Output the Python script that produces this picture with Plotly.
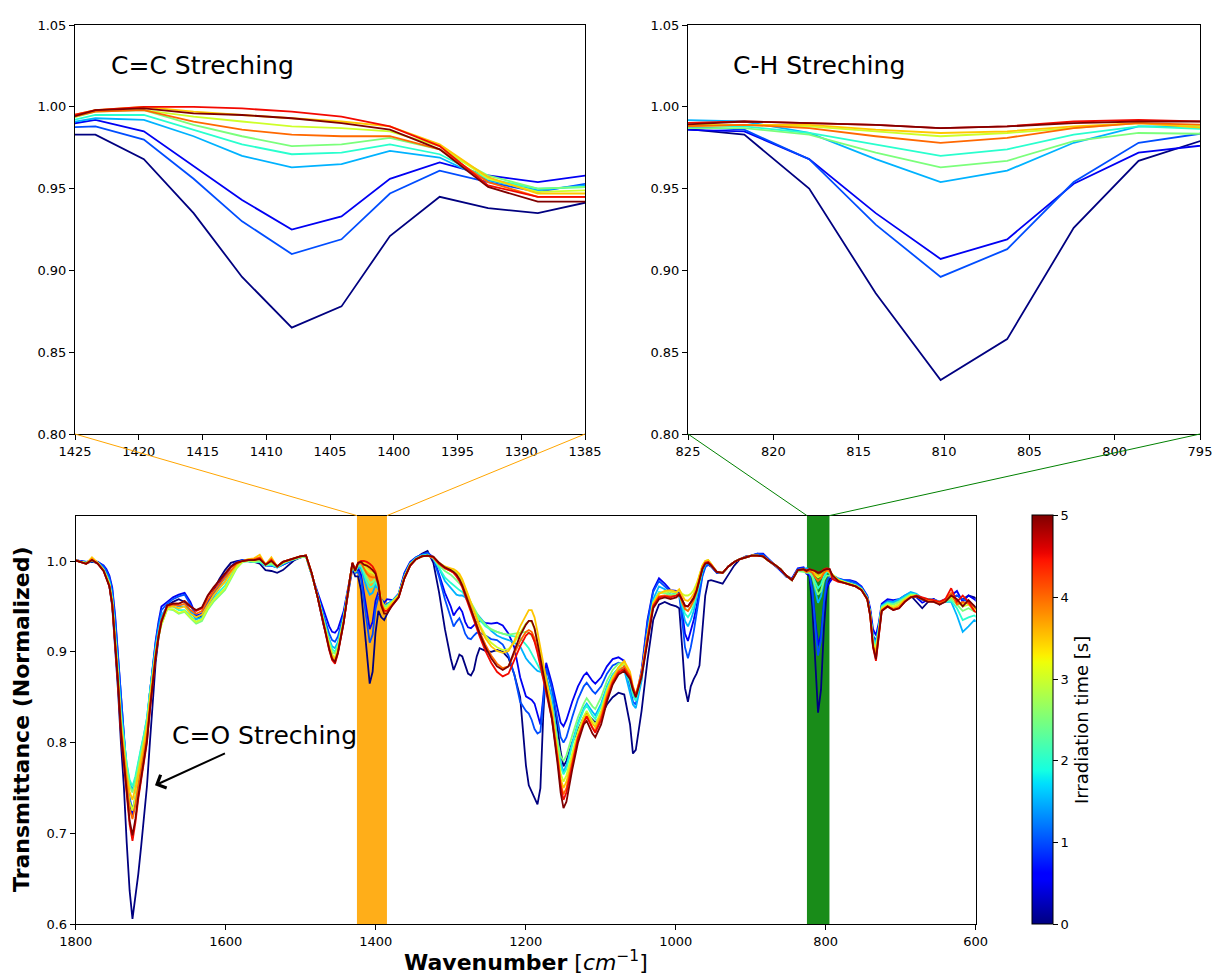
import plotly.graph_objects as go

FIG_W, FIG_H = 1216, 979
FONT = "DejaVu Sans"

# Irradiation times of the recorded spectra [s]
irradiation_time = [0.0, 0.5, 1.0, 1.5, 2.0, 2.5, 3.0, 3.5, 4.0, 4.5, 5.0]

# Wavenumber grid [cm^-1]
wavenumber = [
    1801.4, 1793.7, 1786.0, 1778.3, 1770.6, 1762.8, 1759.0,
    1755.1, 1751.3, 1747.4, 1743.6, 1739.7, 1735.8, 1732.0, 1728.1, 1724.3, 1720.4,
    1716.6, 1712.7, 1708.8, 1705.0, 1701.1, 1697.3, 1693.4, 1689.6, 1685.7,
    1678.0, 1670.3, 1662.6, 1654.8, 1647.1, 1639.4, 1631.7, 1624.0, 1616.3, 1608.6,
    1600.9, 1593.1, 1585.4, 1577.7, 1570.0, 1562.3, 1554.6, 1546.9, 1539.1, 1531.4,
    1523.7, 1516.0, 1508.3, 1500.6, 1492.9, 1485.1,
    1477.4, 1469.7, 1462.0, 1458.1, 1454.3, 1450.4, 1442.7, 1435.0, 1431.1, 1427.3,
    1423.4, 1419.6, 1415.7, 1411.9, 1408.0, 1404.1, 1400.3, 1396.4, 1392.6, 1388.7, 1384.9,
    1377.1, 1369.4, 1361.7, 1354.0, 1346.3, 1338.6, 1330.9, 1323.1, 1315.4, 1307.7,
    1300.0, 1296.1, 1292.3, 1288.4, 1284.6, 1280.7, 1276.9, 1273.0, 1269.1, 1265.3, 1261.4,
    1253.7, 1246.0, 1238.3, 1230.6, 1222.9, 1215.2, 1207.4, 1199.7, 1195.9, 1192.0,
    1188.2, 1184.3, 1180.4, 1176.6, 1172.7,
    1165.0, 1157.3, 1153.4, 1149.6, 1145.7, 1138.0, 1130.3, 1122.6, 1118.7, 1111.0,
    1107.2, 1099.4, 1091.7, 1084.0, 1076.3, 1068.6, 1060.9, 1057.0, 1053.2, 1045.5,
    1037.7, 1030.0, 1022.3, 1014.6, 1006.9,
    999.2, 995.3, 991.4, 987.6, 983.7, 979.9, 976.0, 972.2, 968.3, 964.4, 960.6, 956.7, 952.9,
    945.2, 937.4, 929.7, 922.0, 914.3, 906.6, 898.9, 891.2, 883.4, 875.7, 868.0, 860.3,
    852.6, 844.9, 837.2, 829.5,
    825.6, 821.7, 817.9, 814.0, 810.2, 806.3, 802.4, 798.6, 794.7,
    790.9, 783.2, 775.5, 767.7, 760.0, 752.3, 744.6, 740.7, 736.9, 733.0, 729.2, 725.3,
    717.6, 709.9, 702.2, 694.5, 686.7, 679.0, 671.3, 663.6, 655.9, 648.2, 640.5, 632.7,
    625.0, 617.3, 609.6, 601.9, 598.0,
]

# Normalized transmittance, one list per irradiation time
t_0_0 = [
    1.001, 1.000, 0.998, 0.999, 0.998, 0.991, 0.984,
    0.972, 0.950, 0.905, 0.858, 0.800, 0.752, 0.690, 0.637, 0.606, 0.628, 0.655, 0.686, 0.718, 0.752, 0.800, 0.848, 0.888, 0.915, 0.933,
    0.951, 0.955, 0.958, 0.955, 0.945, 0.936, 0.940, 0.955, 0.967, 0.980, 0.990, 0.998, 1.000, 1.001, 1.000, 0.999, 0.997, 0.990, 0.989, 0.987, 0.990, 0.995, 1.001, 1.004, 1.005, 0.986,
    0.960, 0.930, 0.908, 0.897, 0.890, 0.900, 0.935, 0.975, 0.992, 0.983,
    0.983, 0.968, 0.935, 0.896, 0.865, 0.878, 0.921, 0.945, 0.938, 0.935, 0.942,
    0.955, 0.962, 0.985, 0.998, 1.003, 1.008, 1.011, 0.998, 0.965, 0.925, 0.893, 0.880, 0.888, 0.897, 0.895, 0.885, 0.876, 0.874, 0.880, 0.895, 0.904,
    0.901, 0.900, 0.902, 0.900, 0.893, 0.875, 0.850, 0.775, 0.753, 0.746, 0.741, 0.732, 0.750, 0.830, 0.885,
    0.860, 0.815, 0.790, 0.774, 0.780, 0.800, 0.815, 0.828, 0.832, 0.825, 0.822, 0.830, 0.842, 0.850, 0.855, 0.853, 0.820, 0.788, 0.792, 0.835, 0.890, 0.935, 0.952, 0.955, 0.952,
    0.950, 0.948, 0.905, 0.860, 0.845, 0.862, 0.870, 0.876, 0.885, 0.920, 0.962, 0.978, 0.979,
    0.977, 0.975, 0.985, 0.995, 1.002, 1.005, 1.006, 1.007, 1.007, 1.000, 0.995, 0.990, 0.983, 0.980, 0.990, 0.991,
    0.987, 0.983, 0.950, 0.886, 0.833, 0.858, 0.926, 0.967, 0.980,
    0.982, 0.979, 0.977, 0.976, 0.974, 0.970, 0.960, 0.945, 0.915, 0.905, 0.925, 0.950, 0.955, 0.953, 0.955, 0.960, 0.962, 0.955, 0.948, 0.955, 0.958, 0.952, 0.956, 0.958, 0.962, 0.958, 0.962, 0.960, 0.958,
]
t_0_5 = [
    1.001, 1.000, 0.999, 1.000, 0.999, 0.995, 0.991,
    0.984, 0.971, 0.940, 0.898, 0.845, 0.806, 0.766, 0.734, 0.720, 0.735, 0.758, 0.777, 0.798, 0.821, 0.855, 0.885, 0.912, 0.933, 0.950,
    0.955, 0.960, 0.963, 0.965, 0.955, 0.940, 0.942, 0.955, 0.965, 0.975, 0.985, 0.994, 0.999, 1.001, 1.000, 0.999, 0.999, 0.995, 0.995, 0.993, 0.996, 0.999, 1.002, 1.004, 1.005, 0.984,
    0.965, 0.945, 0.928, 0.922, 0.921, 0.925, 0.945, 0.978, 0.994, 0.987,
    0.992, 0.985, 0.964, 0.943, 0.925, 0.933, 0.956, 0.966, 0.958, 0.954, 0.958,
    0.957, 0.964, 0.987, 0.999, 1.004, 1.007, 1.009, 1.004, 0.985, 0.965, 0.950, 0.940, 0.945, 0.949, 0.944, 0.933, 0.927, 0.926, 0.929, 0.933, 0.934,
    0.932, 0.931, 0.932, 0.929, 0.920, 0.905, 0.872, 0.851, 0.849, 0.847, 0.843, 0.830, 0.820, 0.850, 0.888,
    0.865, 0.835, 0.822, 0.818, 0.825, 0.845, 0.862, 0.874, 0.877, 0.868, 0.865, 0.872, 0.884, 0.892, 0.894, 0.890, 0.868, 0.852, 0.848, 0.880, 0.935, 0.968, 0.981, 0.975, 0.968,
    0.967, 0.965, 0.945, 0.920, 0.912, 0.922, 0.935, 0.950, 0.968, 0.985, 0.994, 0.996, 0.994,
    0.987, 0.987, 0.994, 0.999, 1.002, 1.004, 1.006, 1.008, 1.008, 1.002, 0.996, 0.990, 0.983, 0.981, 0.992, 0.993,
    0.986, 0.985, 0.968, 0.935, 0.907, 0.919, 0.953, 0.972, 0.977,
    0.981, 0.980, 0.979, 0.979, 0.977, 0.972, 0.962, 0.948, 0.925, 0.918, 0.932, 0.953, 0.958, 0.957, 0.958, 0.962, 0.965, 0.960, 0.954, 0.957, 0.958, 0.955, 0.958, 0.962, 0.967, 0.955, 0.962, 0.958, 0.955,
]
t_1_0 = [
    1.001, 1.000, 0.999, 1.000, 0.999, 0.994, 0.989,
    0.982, 0.968, 0.936, 0.895, 0.843, 0.806, 0.769, 0.739, 0.726, 0.740, 0.762, 0.780, 0.800, 0.822, 0.855, 0.884, 0.910, 0.930, 0.946,
    0.953, 0.958, 0.961, 0.963, 0.952, 0.938, 0.941, 0.953, 0.963, 0.973, 0.983, 0.993, 0.998, 1.001, 1.000, 0.999, 0.999, 0.995, 0.995, 0.993, 0.996, 0.999, 1.002, 1.004, 1.005, 0.984,
    0.963, 0.940, 0.920, 0.913, 0.911, 0.917, 0.941, 0.977, 0.994, 0.987,
    0.988, 0.980, 0.956, 0.930, 0.910, 0.919, 0.947, 0.961, 0.954, 0.948, 0.953,
    0.956, 0.963, 0.986, 0.998, 1.004, 1.007, 1.009, 1.003, 0.982, 0.958, 0.938, 0.928, 0.933, 0.937, 0.930, 0.920, 0.915, 0.914, 0.918, 0.921, 0.921,
    0.918, 0.914, 0.913, 0.908, 0.896, 0.875, 0.845, 0.835, 0.832, 0.825, 0.815, 0.810, 0.812, 0.845, 0.882,
    0.860, 0.822, 0.806, 0.800, 0.806, 0.828, 0.848, 0.862, 0.866, 0.857, 0.854, 0.862, 0.876, 0.885, 0.888, 0.886, 0.862, 0.845, 0.842, 0.876, 0.932, 0.966, 0.978, 0.972, 0.966,
    0.965, 0.962, 0.935, 0.905, 0.893, 0.905, 0.922, 0.942, 0.963, 0.983, 0.993, 0.996, 0.994,
    0.987, 0.987, 0.994, 0.999, 1.002, 1.004, 1.006, 1.008, 1.007, 1.002, 0.996, 0.990, 0.983, 0.980, 0.991, 0.992,
    0.988, 0.986, 0.968, 0.928, 0.896, 0.913, 0.954, 0.978, 0.984,
    0.984, 0.981, 0.979, 0.978, 0.976, 0.971, 0.961, 0.945, 0.918, 0.912, 0.928, 0.951, 0.956, 0.955, 0.957, 0.961, 0.964, 0.961, 0.957, 0.958, 0.957, 0.955, 0.957, 0.960, 0.962, 0.958, 0.955, 0.950, 0.948,
]
t_1_5 = [
    1.001, 0.999, 0.998, 1.000, 0.998, 0.991, 0.985,
    0.978, 0.962, 0.926, 0.885, 0.836, 0.805, 0.776, 0.756, 0.748, 0.760, 0.778, 0.793, 0.809, 0.827, 0.856, 0.882, 0.906, 0.925, 0.940,
    0.950, 0.952, 0.950, 0.950, 0.945, 0.936, 0.938, 0.950, 0.960, 0.970, 0.978, 0.988, 0.996, 1.000, 1.000, 0.999, 0.999, 0.995, 0.996, 0.993, 0.997, 1.000, 1.002, 1.004, 1.005, 0.985,
    0.962, 0.937, 0.914, 0.906, 0.904, 0.911, 0.938, 0.977, 0.995, 0.988,
    0.993, 0.992, 0.982, 0.970, 0.963, 0.965, 0.973, 0.969, 0.955, 0.949, 0.952,
    0.957, 0.963, 0.983, 0.997, 1.003, 1.006, 1.007, 1.003, 0.992, 0.978, 0.970, 0.966, 0.963, 0.962, 0.962, 0.960, 0.955, 0.950, 0.946, 0.942, 0.938,
    0.930, 0.923, 0.918, 0.915, 0.913, 0.910, 0.906, 0.893, 0.889, 0.885, 0.882, 0.879, 0.878, 0.877, 0.874,
    0.850, 0.800, 0.778, 0.768, 0.775, 0.800, 0.822, 0.838, 0.843, 0.834, 0.830, 0.843, 0.862, 0.875, 0.882, 0.880, 0.855, 0.842, 0.838, 0.868, 0.920, 0.958, 0.972, 0.969, 0.963,
    0.964, 0.963, 0.948, 0.934, 0.928, 0.935, 0.945, 0.958, 0.973, 0.988, 0.996, 0.998, 0.995,
    0.988, 0.987, 0.994, 0.999, 1.002, 1.004, 1.006, 1.006, 1.005, 1.000, 0.996, 0.991, 0.984, 0.979, 0.990, 0.991,
    0.992, 0.991, 0.984, 0.968, 0.954, 0.961, 0.978, 0.988, 0.988,
    0.985, 0.980, 0.978, 0.976, 0.974, 0.970, 0.960, 0.943, 0.915, 0.910, 0.927, 0.951, 0.955, 0.955, 0.958, 0.962, 0.966, 0.964, 0.959, 0.958, 0.957, 0.955, 0.955, 0.955, 0.940, 0.922, 0.928, 0.935, 0.933,
]
t_2_0 = [
    1.001, 0.999, 0.998, 1.000, 0.998, 0.991, 0.984,
    0.976, 0.958, 0.920, 0.879, 0.832, 0.803, 0.777, 0.759, 0.752, 0.763, 0.780, 0.795, 0.810, 0.827, 0.855, 0.880, 0.903, 0.921, 0.935,
    0.949, 0.950, 0.946, 0.946, 0.940, 0.933, 0.936, 0.948, 0.957, 0.966, 0.973, 0.984, 0.994, 0.999, 1.000, 0.999, 0.999, 0.995, 0.996, 0.993, 0.997, 1.000, 1.002, 1.004, 1.005, 0.985,
    0.961, 0.935, 0.912, 0.903, 0.900, 0.908, 0.937, 0.977, 0.996, 0.988,
    0.995, 0.995, 0.986, 0.977, 0.971, 0.972, 0.977, 0.971, 0.956, 0.950, 0.951,
    0.956, 0.963, 0.983, 0.997, 1.003, 1.006, 1.007, 1.003, 0.993, 0.982, 0.976, 0.973, 0.970, 0.968, 0.966, 0.962, 0.956, 0.950, 0.945, 0.940, 0.935,
    0.928, 0.924, 0.922, 0.920, 0.918, 0.917, 0.915, 0.908, 0.904, 0.898, 0.892, 0.886, 0.880, 0.872, 0.862,
    0.840, 0.795, 0.774, 0.765, 0.771, 0.797, 0.820, 0.836, 0.841, 0.830, 0.826, 0.840, 0.860, 0.874, 0.882, 0.882, 0.866, 0.852, 0.846, 0.872, 0.918, 0.955, 0.966, 0.965, 0.962,
    0.963, 0.963, 0.952, 0.942, 0.938, 0.943, 0.951, 0.962, 0.976, 0.990, 0.997, 0.999, 0.995,
    0.988, 0.987, 0.994, 0.999, 1.002, 1.004, 1.006, 1.006, 1.005, 1.000, 0.996, 0.991, 0.984, 0.979, 0.990, 0.990,
    0.989, 0.988, 0.984, 0.977, 0.970, 0.974, 0.983, 0.988, 0.987,
    0.985, 0.980, 0.977, 0.975, 0.973, 0.969, 0.959, 0.942, 0.913, 0.908, 0.926, 0.950, 0.954, 0.953, 0.956, 0.960, 0.964, 0.963, 0.959, 0.958, 0.957, 0.955, 0.955, 0.956, 0.948, 0.935, 0.938, 0.940, 0.938,
]
t_2_5 = [
    1.001, 0.999, 0.998, 1.001, 0.998, 0.990, 0.983,
    0.975, 0.956, 0.917, 0.875, 0.826, 0.797, 0.771, 0.753, 0.745, 0.757, 0.774, 0.789, 0.805, 0.822, 0.851, 0.876, 0.899, 0.917, 0.930,
    0.947, 0.946, 0.942, 0.944, 0.937, 0.931, 0.934, 0.946, 0.955, 0.962, 0.968, 0.980, 0.992, 0.999, 1.000, 0.999, 1.000, 0.996, 0.997, 0.994, 0.998, 1.000, 1.002, 1.004, 1.005, 0.985,
    0.961, 0.934, 0.910, 0.900, 0.898, 0.906, 0.937, 0.977, 0.996, 0.989,
    0.997, 0.998, 0.989, 0.982, 0.976, 0.977, 0.981, 0.974, 0.958, 0.950, 0.951,
    0.956, 0.962, 0.982, 0.996, 1.002, 1.005, 1.006, 1.003, 0.995, 0.989, 0.985, 0.982, 0.979, 0.976, 0.972, 0.966, 0.960, 0.954, 0.948, 0.942, 0.937,
    0.930, 0.925, 0.922, 0.920, 0.919, 0.920, 0.921, 0.922, 0.921, 0.918, 0.912, 0.903, 0.893, 0.880, 0.866,
    0.840, 0.800, 0.785, 0.780, 0.786, 0.808, 0.828, 0.843, 0.849, 0.840, 0.837, 0.850, 0.868, 0.880, 0.887, 0.888, 0.872, 0.857, 0.850, 0.874, 0.918, 0.954, 0.965, 0.965, 0.963,
    0.963, 0.964, 0.955, 0.948, 0.945, 0.949, 0.955, 0.965, 0.978, 0.991, 0.997, 0.999, 0.995,
    0.988, 0.987, 0.994, 0.999, 1.002, 1.004, 1.006, 1.006, 1.005, 1.000, 0.996, 0.991, 0.984, 0.979, 0.989, 0.988,
    0.987, 0.987, 0.983, 0.972, 0.963, 0.967, 0.979, 0.984, 0.984,
    0.983, 0.979, 0.977, 0.975, 0.973, 0.969, 0.959, 0.942, 0.911, 0.905, 0.924, 0.949, 0.953, 0.952, 0.955, 0.959, 0.963, 0.962, 0.958, 0.957, 0.956, 0.955, 0.956, 0.958, 0.952, 0.945, 0.948, 0.945, 0.943,
]
t_3_0 = [
    1.001, 0.999, 0.998, 1.002, 0.998, 0.990, 0.983,
    0.974, 0.955, 0.915, 0.872, 0.820, 0.788, 0.758, 0.735, 0.725, 0.740, 0.760, 0.776, 0.794, 0.814, 0.845, 0.872, 0.897, 0.916, 0.930,
    0.947, 0.947, 0.943, 0.945, 0.938, 0.933, 0.936, 0.948, 0.957, 0.964, 0.970, 0.982, 0.993, 0.999, 1.001, 1.000, 1.002, 0.997, 0.999, 0.994, 0.998, 1.001, 1.003, 1.005, 1.005, 0.985,
    0.960, 0.933, 0.908, 0.897, 0.894, 0.903, 0.935, 0.977, 0.997, 0.988,
    0.998, 0.998, 0.994, 0.991, 0.988, 0.987, 0.985, 0.976, 0.956, 0.948, 0.949,
    0.955, 0.962, 0.982, 0.996, 1.002, 1.005, 1.006, 1.004, 0.997, 0.993, 0.991, 0.989, 0.987, 0.984, 0.978, 0.970, 0.962, 0.953, 0.945, 0.937, 0.930,
    0.918, 0.910, 0.905, 0.902, 0.903, 0.910, 0.921, 0.931, 0.934, 0.933, 0.925, 0.912, 0.898, 0.882, 0.865,
    0.836, 0.790, 0.766, 0.757, 0.764, 0.788, 0.812, 0.829, 0.835, 0.824, 0.820, 0.835, 0.857, 0.872, 0.882, 0.887, 0.875, 0.860, 0.852, 0.876, 0.918, 0.954, 0.964, 0.966, 0.966,
    0.965, 0.968, 0.964, 0.962, 0.962, 0.964, 0.968, 0.975, 0.985, 0.995, 1.000, 1.001, 0.997,
    0.988, 0.987, 0.994, 0.999, 1.002, 1.004, 1.006, 1.006, 1.005, 1.000, 0.996, 0.991, 0.984, 0.979, 0.990, 0.991,
    0.989, 0.989, 0.988, 0.985, 0.982, 0.984, 0.987, 0.990, 0.988,
    0.985, 0.979, 0.977, 0.975, 0.973, 0.969, 0.959, 0.942, 0.910, 0.903, 0.922, 0.948, 0.952, 0.950, 0.953, 0.958, 0.962, 0.962, 0.958, 0.957, 0.956, 0.955, 0.957, 0.960, 0.955, 0.950, 0.952, 0.948, 0.946,
]
t_3_5 = [
    1.002, 0.999, 0.997, 1.004, 0.998, 0.990, 0.982,
    0.974, 0.955, 0.915, 0.872, 0.822, 0.792, 0.765, 0.746, 0.737, 0.750, 0.768, 0.783, 0.800, 0.818, 0.848, 0.874, 0.899, 0.918, 0.933,
    0.949, 0.950, 0.948, 0.950, 0.942, 0.938, 0.941, 0.952, 0.962, 0.970, 0.977, 0.987, 0.996, 1.000, 1.002, 1.003, 1.007, 0.996, 1.004, 0.994, 0.999, 1.001, 1.003, 1.005, 1.006, 0.986,
    0.960, 0.932, 0.906, 0.895, 0.892, 0.901, 0.934, 0.977, 0.998, 0.991,
    0.998, 1.000, 0.997, 0.995, 0.993, 0.991, 0.988, 0.977, 0.957, 0.947, 0.947,
    0.955, 0.962, 0.982, 0.996, 1.002, 1.005, 1.006, 1.004, 0.998, 0.994, 0.992, 0.991, 0.989, 0.986, 0.980, 0.972, 0.963, 0.954, 0.945, 0.936, 0.928,
    0.915, 0.906, 0.901, 0.899, 0.901, 0.912, 0.928, 0.941, 0.946, 0.946, 0.938, 0.922, 0.904, 0.886, 0.868,
    0.836, 0.787, 0.760, 0.750, 0.757, 0.782, 0.808, 0.826, 0.832, 0.821, 0.817, 0.832, 0.855, 0.871, 0.883, 0.890, 0.878, 0.862, 0.853, 0.877, 0.918, 0.953, 0.964, 0.967, 0.968,
    0.966, 0.969, 0.962, 0.957, 0.956, 0.959, 0.964, 0.972, 0.984, 0.995, 1.000, 1.001, 0.997,
    0.988, 0.987, 0.994, 0.999, 1.002, 1.004, 1.006, 1.006, 1.005, 1.000, 0.996, 0.991, 0.984, 0.979, 0.990, 0.990,
    0.988, 0.989, 0.989, 0.986, 0.984, 0.985, 0.988, 0.990, 0.987,
    0.985, 0.979, 0.976, 0.974, 0.972, 0.968, 0.958, 0.941, 0.908, 0.900, 0.920, 0.947, 0.951, 0.948, 0.951, 0.957, 0.961, 0.961, 0.958, 0.957, 0.956, 0.954, 0.957, 0.962, 0.955, 0.953, 0.955, 0.948, 0.946,
]
t_4_0 = [
    1.001, 0.999, 0.997, 1.002, 0.997, 0.989, 0.982,
    0.973, 0.953, 0.912, 0.868, 0.816, 0.784, 0.752, 0.727, 0.716, 0.731, 0.753, 0.770, 0.788, 0.808, 0.840, 0.869, 0.896, 0.917, 0.933,
    0.950, 0.952, 0.951, 0.953, 0.946, 0.942, 0.945, 0.957, 0.966, 0.974, 0.982, 0.990, 0.997, 1.000, 1.001, 1.002, 1.004, 0.996, 1.002, 0.994, 0.999, 1.001, 1.003, 1.005, 1.006, 0.986,
    0.960, 0.931, 0.904, 0.893, 0.890, 0.900, 0.933, 0.977, 0.998, 0.990,
    0.997, 0.998, 0.991, 0.986, 0.983, 0.982, 0.982, 0.974, 0.954, 0.945, 0.945,
    0.952, 0.960, 0.981, 0.995, 1.002, 1.005, 1.006, 1.004, 0.997, 0.992, 0.989, 0.987, 0.984, 0.980, 0.974, 0.966, 0.957, 0.948, 0.939, 0.930, 0.922,
    0.908, 0.896, 0.887, 0.882, 0.884, 0.897, 0.912, 0.922, 0.924, 0.922, 0.915, 0.902, 0.888, 0.874, 0.858,
    0.830, 0.783, 0.755, 0.743, 0.750, 0.778, 0.806, 0.823, 0.829, 0.817, 0.813, 0.828, 0.851, 0.868, 0.879, 0.884, 0.874, 0.860, 0.851, 0.875, 0.916, 0.951, 0.961, 0.962, 0.961,
    0.962, 0.964, 0.954, 0.947, 0.945, 0.950, 0.957, 0.966, 0.979, 0.992, 0.998, 0.999, 0.995,
    0.988, 0.987, 0.994, 0.999, 1.002, 1.004, 1.006, 1.006, 1.005, 1.000, 0.996, 0.991, 0.984, 0.979, 0.990, 0.990,
    0.988, 0.989, 0.987, 0.982, 0.978, 0.981, 0.987, 0.990, 0.989,
    0.984, 0.978, 0.976, 0.974, 0.972, 0.968, 0.958, 0.940, 0.906, 0.896, 0.918, 0.946, 0.950, 0.947, 0.949, 0.956, 0.960, 0.961, 0.958, 0.956, 0.955, 0.953, 0.957, 0.965, 0.952, 0.955, 0.953, 0.945, 0.943,
]
t_4_5 = [
    1.001, 0.999, 0.997, 1.001, 0.997, 0.989, 0.981,
    0.972, 0.952, 0.910, 0.865, 0.810, 0.775, 0.742, 0.710, 0.692, 0.712, 0.738, 0.758, 0.778, 0.800, 0.835, 0.866, 0.895, 0.918, 0.935,
    0.951, 0.953, 0.953, 0.956, 0.950, 0.945, 0.948, 0.961, 0.970, 0.978, 0.985, 0.993, 0.998, 1.000, 1.001, 1.001, 1.003, 0.996, 1.001, 0.994, 0.999, 1.001, 1.003, 1.005, 1.006, 0.986,
    0.960, 0.930, 0.902, 0.891, 0.887, 0.898, 0.932, 0.977, 0.998, 0.991,
    0.998, 1.000, 1.000, 0.999, 0.997, 0.994, 0.988, 0.976, 0.952, 0.945, 0.945,
    0.952, 0.960, 0.981, 0.995, 1.002, 1.005, 1.006, 1.004, 0.997, 0.992, 0.989, 0.987, 0.983, 0.978, 0.971, 0.962, 0.952, 0.943, 0.934, 0.925, 0.917,
    0.901, 0.888, 0.878, 0.873, 0.876, 0.890, 0.906, 0.918, 0.921, 0.919, 0.911, 0.899, 0.885, 0.871, 0.856,
    0.826, 0.780, 0.752, 0.737, 0.745, 0.775, 0.805, 0.822, 0.829, 0.816, 0.811, 0.825, 0.848, 0.866, 0.877, 0.881, 0.872, 0.860, 0.852, 0.875, 0.915, 0.950, 0.960, 0.961, 0.960,
    0.962, 0.964, 0.958, 0.950, 0.950, 0.955, 0.960, 0.968, 0.980, 0.992, 0.998, 0.999, 0.996,
    0.988, 0.987, 0.994, 0.999, 1.002, 1.004, 1.006, 1.006, 1.005, 1.000, 0.996, 0.991, 0.984, 0.979, 0.990, 0.991,
    0.990, 0.991, 0.990, 0.989, 0.987, 0.988, 0.991, 0.992, 0.991,
    0.980, 0.977, 0.976, 0.974, 0.972, 0.968, 0.958, 0.940, 0.905, 0.890, 0.915, 0.945, 0.950, 0.946, 0.948, 0.955, 0.960, 0.962, 0.960, 0.958, 0.957, 0.955, 0.958, 0.970, 0.955, 0.962, 0.955, 0.945, 0.943,
]
t_5_0 = [
    1.001, 0.999, 0.997, 1.001, 0.997, 0.989, 0.981,
    0.972, 0.952, 0.910, 0.866, 0.812, 0.778, 0.745, 0.714, 0.698, 0.716, 0.741, 0.760, 0.780, 0.802, 0.836, 0.866, 0.894, 0.916, 0.933,
    0.951, 0.953, 0.953, 0.956, 0.950, 0.946, 0.949, 0.962, 0.971, 0.979, 0.986, 0.994, 0.998, 1.000, 1.001, 1.001, 1.002, 0.996, 1.000, 0.994, 0.999, 1.001, 1.003, 1.005, 1.006, 0.986,
    0.960, 0.930, 0.903, 0.892, 0.889, 0.899, 0.932, 0.977, 0.998, 0.989,
    0.998, 0.999, 0.996, 0.995, 0.993, 0.990, 0.986, 0.974, 0.951, 0.942, 0.942,
    0.952, 0.960, 0.981, 0.995, 1.002, 1.005, 1.006, 1.005, 0.998, 0.993, 0.990, 0.988, 0.985, 0.980, 0.973, 0.964, 0.955, 0.946, 0.937, 0.928, 0.920,
    0.905, 0.893, 0.884, 0.880, 0.884, 0.900, 0.918, 0.930, 0.934, 0.934, 0.926, 0.910, 0.893, 0.876, 0.858,
    0.826, 0.775, 0.745, 0.728, 0.735, 0.770, 0.800, 0.820, 0.824, 0.810, 0.806, 0.820, 0.845, 0.864, 0.875, 0.879, 0.870, 0.858, 0.850, 0.872, 0.912, 0.948, 0.958, 0.960, 0.958,
    0.960, 0.963, 0.957, 0.951, 0.950, 0.954, 0.959, 0.967, 0.979, 0.991, 0.997, 0.998, 0.995,
    0.988, 0.987, 0.994, 0.999, 1.002, 1.004, 1.006, 1.006, 1.005, 1.000, 0.996, 0.991, 0.984, 0.979, 0.990, 0.991,
    0.989, 0.991, 0.990, 0.989, 0.987, 0.988, 0.990, 0.991, 0.991,
    0.984, 0.978, 0.976, 0.974, 0.972, 0.968, 0.958, 0.940, 0.906, 0.892, 0.916, 0.945, 0.950, 0.946, 0.948, 0.955, 0.960, 0.961, 0.958, 0.955, 0.955, 0.952, 0.955, 0.962, 0.958, 0.950, 0.957, 0.950, 0.947,
]

spectra = [t_0_0, t_0_5, t_1_0, t_1_5, t_2_0, t_2_5, t_3_0, t_3_5, t_4_0, t_4_5, t_5_0]
for t, s in zip(irradiation_time, spectra):
    assert len(s) == len(wavenumber), f"spectrum {t} s has {len(s)} points, grid has {len(wavenumber)}"

# Zoomed spectral windows and axis ticks
cc_window = [1425, 1385]
ch_window = [825, 795]
full_range = [1800, 600]
full_xticks = [1800, 1600, 1400, 1200, 1000, 800, 600]
full_yticks = [0.6, 0.7, 0.8, 0.9, 1.0]
cc_xticks = [1425, 1420, 1415, 1410, 1405, 1400, 1395, 1390, 1385]
ch_xticks = [825, 820, 815, 810, 805, 800, 795]
zoom_yticks = [0.80, 0.85, 0.90, 0.95, 1.00, 1.05]
time_ticks = [0, 1, 2, 3, 4, 5]


def jet(f):
    """Matplotlib 'jet' colormap evaluated at f in [0, 1]."""
    def seg(points, x):
        for (x0, y0), (x1, y1) in zip(points, points[1:]):
            if x0 <= x <= x1:
                return y0 + (y1 - y0) * (x - x0) / (x1 - x0)
        return points[-1][1]
    r = seg([(0, 0), (0.35, 0), (0.66, 1), (0.89, 1), (1, 0.5)], f)
    g = seg([(0, 0), (0.125, 0), (0.375, 1), (0.64, 1), (0.91, 0), (1, 0)], f)
    b = seg([(0, 0.5), (0.11, 1), (0.34, 1), (0.65, 0), (1, 0)], f)
    return f"rgb({round(r * 255)},{round(g * 255)},{round(b * 255)})"


def px_x(px):
    return px / FIG_W


def px_y(py):
    return 1 - py / FIG_H


# Panel placement (pixels)
main_dom_x = [px_x(75.7), px_x(975.7)]
main_dom_y = [px_y(924.3), px_y(515.6)]
cc_dom_x = [px_x(75), px_x(585)]
ch_dom_x = [px_x(688), px_x(1200)]
top_dom_y = [px_y(434), px_y(25)]

t_max = max(irradiation_time)
fig = go.Figure()

for t, vals in zip(irradiation_time, spectra):
    color = jet(t / t_max)
    for xa, ya in (("x", "y"), ("x2", "y2"), ("x3", "y3")):
        fig.add_trace(go.Scatter(
            x=wavenumber, y=vals, mode="lines",
            line=dict(color=color, width=1.8),
            xaxis=xa, yaxis=ya, showlegend=False, hoverinfo="skip",
        ))

# Colorbar for irradiation time
fig.add_trace(go.Scatter(
    x=[None], y=[None], mode="markers", showlegend=False, hoverinfo="skip",
    marker=dict(
        color=[0], cmin=0, cmax=t_max,
        colorscale=[[i / 64, jet(i / 64)] for i in range(65)],
        showscale=True,
        colorbar=dict(
            x=px_x(1032), xanchor="left", xpad=0, ypad=0,
            y=(main_dom_y[0] + main_dom_y[1]) / 2, yanchor="middle",
            len=main_dom_y[1] - main_dom_y[0], lenmode="fraction",
            thickness=21, thicknessmode="pixels",
            outlinewidth=1, outlinecolor="black",
            tickvals=time_ticks, ticks="outside", ticklen=5, tickcolor="black",
            tickfont=dict(family=FONT, size=13, color="black"),
            title=dict(text="Irradiation time [s]", side="right",
                       font=dict(family=FONT, size=18, color="black")),
        ),
    ),
))


def axis_style(**kw):
    base = dict(
        showline=True, linecolor="black", linewidth=1, mirror=True,
        ticks="outside", ticklen=5, tickwidth=1, tickcolor="black",
        showgrid=False, zeroline=False, automargin=False,
        tickfont=dict(family=FONT, size=13, color="black"),
    )
    base.update(kw)
    return base


fig.update_layout(
    width=FIG_W, height=FIG_H,
    margin=dict(l=0, r=0, t=0, b=0),
    paper_bgcolor="white", plot_bgcolor="white",
    showlegend=False,
    font=dict(family=FONT, color="black"),
    xaxis=axis_style(domain=main_dom_x, range=full_range, tickvals=full_xticks, anchor="y"),
    yaxis=axis_style(domain=main_dom_y, range=[0.6, 1.05], tickvals=full_yticks,
                     tickformat=".1f", anchor="x"),
    xaxis2=axis_style(domain=cc_dom_x, range=cc_window, tickvals=cc_xticks, anchor="y2"),
    yaxis2=axis_style(domain=top_dom_y, range=[0.80, 1.05], tickvals=zoom_yticks,
                      tickformat=".2f", anchor="x2"),
    xaxis3=axis_style(domain=ch_dom_x, range=ch_window, tickvals=ch_xticks, anchor="y3"),
    yaxis3=axis_style(domain=top_dom_y, range=[0.80, 1.05], tickvals=zoom_yticks,
                      tickformat=".2f", anchor="x3"),
)


def main_x_to_paper(w):
    frac = (full_range[0] - w) / (full_range[0] - full_range[1])
    return main_dom_x[0] + frac * (main_dom_x[1] - main_dom_x[0])


shapes = []
for window, dom_x, fill, edge in (
    (cc_window, cc_dom_x, "rgba(255,165,0,0.9)", "rgb(255,165,0)"),
    (ch_window, ch_dom_x, "rgba(0,128,0,0.9)", "rgb(0,128,0)"),
):
    # highlighted band on the full spectrum
    shapes.append(dict(type="rect", xref="x", yref="y domain",
                       x0=window[0], x1=window[1], y0=0, y1=1,
                       fillcolor=fill, line=dict(width=0), layer="below"))
    # connectors from the zoom panel corners to the band
    for corner_x, w in ((dom_x[0], window[0]), (dom_x[1], window[1])):
        shapes.append(dict(type="line", xref="paper", yref="paper",
                           x0=corner_x, y0=top_dom_y[0],
                           x1=main_x_to_paper(w), y1=main_dom_y[1],
                           line=dict(color=edge, width=1)))
fig.update_layout(shapes=shapes)

label_font = dict(family=FONT, size=25, color="black")
title_font = dict(family=FONT, size=22, color="black")
annotations = [
    dict(text="C=C Streching", xref="x2", yref="y2", x=1422.3, y=1.0255,
         xanchor="left", yanchor="middle", showarrow=False, font=label_font),
    dict(text="C-H Streching", xref="x3", yref="y3", x=822.5, y=1.0255,
         xanchor="left", yanchor="middle", showarrow=False, font=label_font),
    dict(text="C=O Streching", xref="x", yref="y", x=1674.3, y=0.8084,
         xanchor="left", yanchor="middle", showarrow=False, font=label_font),
    dict(text="", xref="x", yref="y", x=1694.3, y=0.753,
         axref="x", ayref="y", ax=1599, ay=0.789,
         showarrow=True, arrowhead=4, arrowsize=1.4, arrowwidth=2, arrowcolor="black"),
    dict(text="<b>Wavenumber</b> [<i>cm</i><sup>−1</sup>]", xref="paper", yref="paper",
         x=(main_dom_x[0] + main_dom_x[1]) / 2, y=px_y(961),
         xanchor="center", yanchor="middle", showarrow=False, font=title_font),
    dict(text="<b>Transmittance (Normalized)</b>", xref="paper", yref="paper",
         x=px_x(22), y=(main_dom_y[0] + main_dom_y[1]) / 2, textangle=-90,
         xanchor="center", yanchor="middle", showarrow=False, font=title_font),
]
fig.update_layout(annotations=annotations)

fig.write_html("out.html")
